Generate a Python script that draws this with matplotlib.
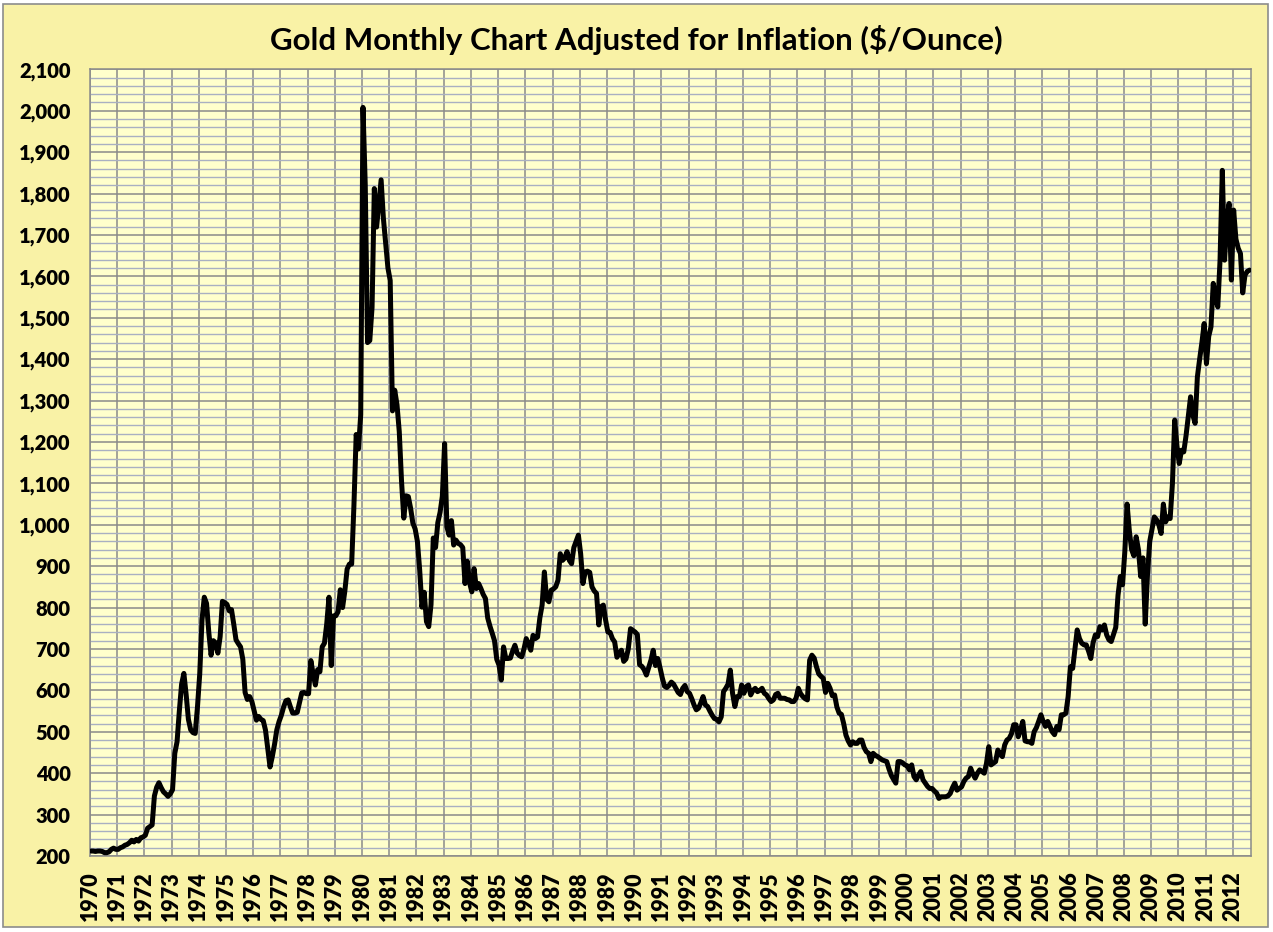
import matplotlib
matplotlib.use("Agg")
import matplotlib.pyplot as plt
from matplotlib.patches import Rectangle
from matplotlib.ticker import FuncFormatter
import numpy as np

plt.rcParams['font.family'] = ['Lato', 'DejaVu Sans']

title = "Gold Monthly Chart Adjusted for Inflation ($/Ounce)"
start_year = 1970
years = list(range(1970, 2013))

# Monthly inflation-adjusted gold price ($/oz), Jan 1970 - Aug 2012
gold_1970s = [
    212, 212, 211, 212, 212, 211, 208, 208, 210, 216, 219, 216,
    216, 220, 222, 226, 228, 232, 238, 234, 240, 236, 244, 246,
    250, 267, 271, 275, 345, 366, 377, 365, 355, 350, 344, 350,
    360, 448, 476, 550, 615, 641, 590, 530, 505, 498, 496, 560,
    640, 770, 825, 810, 740, 685, 720, 715, 690, 730, 815, 812,
    808, 792, 795, 760, 722, 713, 705, 675, 595, 578, 585, 573,
    550, 528, 537, 530, 527, 504, 460, 415, 440, 470, 505, 525,
    540, 560, 575, 577, 560, 545, 545, 547, 570, 594, 595, 592,
    592, 672, 640, 613, 650, 645, 705, 714, 760, 825, 660, 780,
    780, 790, 843, 800, 840, 893, 905, 905, 1046, 1218, 1183, 1266,
]
gold_1980s = [
    2008, 1820, 1440, 1445, 1525, 1812, 1719, 1777, 1833, 1740, 1680, 1620,
    1590, 1275, 1325, 1290, 1225, 1105, 1016, 1070, 1068, 1040, 1004, 990,
    960, 891, 801, 837, 766, 754, 807, 968, 945, 1005, 1030, 1069,
    1196, 995, 975, 1010, 951, 963, 955, 952, 945, 858, 912, 860,
    838, 894, 846, 858, 846, 832, 822, 775, 755, 738, 720, 675,
    661, 625, 705, 677, 677, 678, 695, 709, 690, 684, 681, 700,
    725, 712, 697, 733, 725, 729, 775, 806, 886, 820, 814, 842,
    845, 850, 866, 930, 914, 920, 935, 914, 906, 945, 960, 975,
    930, 858, 886, 888, 885, 850, 840, 834, 758, 802, 806, 770,
    741, 740, 725, 717, 680, 690, 697, 670, 676, 700, 749, 745,
]
gold_1990s = [
    741, 735, 662, 658, 650, 637, 655, 673, 697, 660, 677, 655,
    630, 610, 607, 612, 620, 615, 605, 595, 590, 605, 612, 597,
    593, 580, 565, 553, 557, 570, 585, 565, 561, 550, 540, 532,
    530, 524, 536, 597, 605, 615, 649, 593, 561, 585, 585, 613,
    593, 609, 613, 589, 600, 605, 597, 600, 605, 593, 589, 580,
    573, 577, 590, 593, 581, 581, 581, 578, 577, 573, 573, 581,
    605, 592, 585, 580, 577, 673, 685, 678, 657, 640, 634, 629,
    595, 617, 605, 587, 589, 560, 545, 542, 520, 492, 478, 468,
    476, 472, 472, 480, 480, 462, 452, 448, 428, 448, 443, 440,
    436, 432, 430, 428, 410, 395, 385, 376, 428, 428, 425, 420,
]
gold_2000s = [
    418, 408, 420, 392, 384, 395, 404, 384, 376, 368, 363, 363,
    357, 352, 339, 343, 343, 343, 345, 351, 365, 376, 359, 363,
    367, 380, 388, 392, 412, 398, 388, 400, 408, 404, 400, 424,
    464, 420, 424, 428, 456, 446, 440, 468, 480, 484, 495, 517,
    517, 488, 505, 525, 478, 476, 476, 472, 500, 510, 525, 541,
    525, 513, 525, 513, 500, 493, 513, 505, 541, 541, 545, 585,
    657, 653, 700, 746, 725, 714, 710, 710, 695, 677, 715, 734,
    730, 754, 746, 758, 734, 722, 718, 735, 752, 830, 875, 855,
    935, 1050, 985, 940, 925, 971, 940, 875, 920, 760, 880, 960,
    990, 1019, 1012, 1000, 979, 1050, 1007, 1019, 1015, 1100, 1253, 1190,
]
gold_2010s = [
    1148, 1180, 1176, 1215, 1261, 1309, 1265, 1245, 1357, 1400, 1440, 1486,
    1389, 1455, 1478, 1583, 1550, 1526, 1639, 1856, 1639, 1736, 1776, 1591,
    1760, 1690, 1668, 1655, 1560, 1603, 1612, 1615,
]

values = np.array(gold_1970s + gold_1980s + gold_1990s + gold_2000s + gold_2010s, dtype=float)
x = start_year + (np.arange(len(values)) + 0.4) / 12.0

W, H = 1273, 932
fig = plt.figure(figsize=(W / 100, H / 100), dpi=100, facecolor='white')

# chart area background with border
bg = Rectangle((3 / W, 5 / H), 1265 / W, 923 / H, transform=fig.transFigure,
               facecolor='#F9F2A6', edgecolor='#8C8C8C', linewidth=1.2, zorder=-10)
fig.patches.append(bg)

ax = fig.add_axes([90 / W, 1 - 856 / H, 1160.7 / W, (856 - 69.3) / H])
ax.set_zorder(2)
ax.set_facecolor('#FFFFCC')
ax.set_axisbelow(True)

ax.plot(x, values, color='black', linewidth=3.6, solid_joinstyle='round', solid_capstyle='round', zorder=3)

ax.set_xlim(1970, 2012.66)
ax.set_ylim(200, 2100)

ax.set_yticks(np.arange(200, 2101, 100))
ax.set_yticks(np.arange(200, 2101, 20), minor=True)
ax.set_xticks(years)
ax.set_xticklabels([str(y) for y in years], rotation=90, fontsize=15.5, fontweight='heavy')
ax.yaxis.set_major_formatter(FuncFormatter(lambda v, p: f"{int(v):,}"))
for lab in ax.get_yticklabels():
    lab.set_fontweight('heavy')
    lab.set_fontsize(14.5)

ax.tick_params(axis='both', which='both', length=0)
ax.tick_params(axis='y', pad=14)
ax.tick_params(axis='x', pad=11)

ax.grid(which='minor', axis='y', color='#A9B0C2', linewidth=1.0)
ax.grid(which='major', axis='y', color='#8A8A8A', linewidth=1.1)
ax.grid(which='major', axis='x', color='#8A8A8A', linewidth=1.1)

for s in ax.spines.values():
    s.set_color('#8A8A8A')
    s.set_linewidth(1.1)

fig.text(0.5, 1 - 40 / H, title, ha='center', va='center', fontsize=22.5, fontweight='bold')

fig.savefig('out.png', dpi=100, facecolor=fig.get_facecolor())
